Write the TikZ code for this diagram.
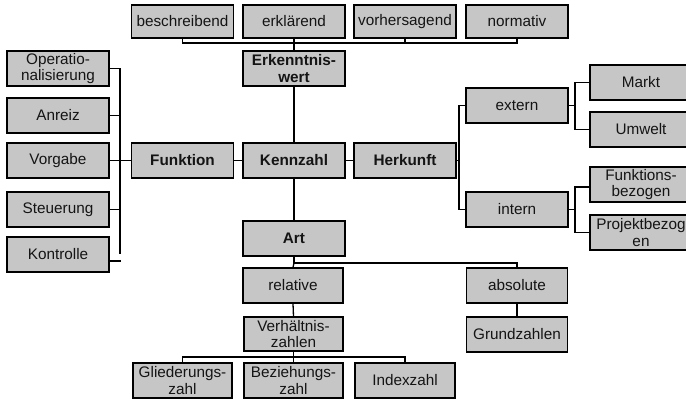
\documentclass[tikz,border=0pt]{standalone}
\usepackage{fontspec}
\setmainfont{Liberation Sans}
\definecolor{boxgray}{RGB}{198,198,198}
\definecolor{txt}{RGB}{20,20,20}
\tikzset{
  kbox/.style={draw=black, fill=boxgray, line width=1.3pt, minimum width=102pt,
    minimum height=35pt, inner sep=0pt, align=center, text=txt,
    font=\fontsize{15.3}{16.8}\selectfont},
  kbold/.style={kbox, font=\fontsize{15.3}{16.8}\selectfont\bfseries},
  conn/.style={draw=black, line width=1.3pt}
}
\begin{document}
\begin{tikzpicture}[x=1pt,y=-1pt]
\clip (0,0) rectangle (686,400);
\fill[white] (0,0) rectangle (686,400);
% top row
\node[kbox, minimum height=33pt] (besch) at (182.5,21.5) {beschreibend};
\node[kbox, minimum height=33pt] (erkl) at (294,21.5) {erklärend};
\node[kbox, minimum height=33pt] (vorh) at (405,21.5) {vorhersagend};
\node[kbox, minimum height=33pt] (norm) at (517,21.5) {normativ};
\node[kbold] (erk) at (294,68.5) {Erkenntnis-\\wert};
% left column
\node[kbox] (oper) at (58,68.5) {Operatio-\\nalisierung};
\node[kbox] (anr) at (58,115.5) {Anreiz};
\node[kbox] (vorg) at (58,160.5) {Vorgabe};
\node[kbox] (steu) at (58,209.5) {Steuerung};
\node[kbox] (kontr) at (58,254.5) {Kontrolle};
% middle row
\node[kbold] (funk) at (182.5,160.5) {Funktion};
\node[kbold] (kenn) at (294,160.5) {Kennzahl};
\node[kbold] (herk) at (405,160.5) {Herkunft};
% right side
\node[kbox] (ext) at (517,105.5) {extern};
\node[kbox] (int) at (517,209.5) {intern};
\node[kbox] (markt) at (641,82.5) {Markt};
\node[kbox] (umw) at (641,129.5) {Umwelt};
\node[kbox] (fbez) at (641,184.5) {Funktions-\\bezogen};
\node[kbox] (pbez) at (641,232.5) {Projektbezog\\en};
% bottom
\node[kbold] (art) at (294,238.5) {Art};
\node[kbox, minimum width=100pt] (rel) at (293,285.5) {relative};
\node[kbox, minimum width=101pt] (abs) at (517,285.5) {absolute};
\node[kbox, minimum width=99pt, minimum height=34pt] (verh) at (293.5,334) {Verhältnis-\\zahlen};
\node[kbox, minimum width=101pt] (grund) at (517,334.5) {Grundzahlen};
\node[kbox, minimum width=99pt] (glied) at (182.5,380.5) {Gliederungs-\\zahl};
\node[kbox, minimum width=99pt] (bez) at (293.5,380.5) {Beziehungs-\\zahl};
\node[kbox, minimum width=100pt] (idx) at (405,380.5) {Indexzahl};
% bus coordinates
\coordinate (topbus) at (294,43);
\coordinate (lbus) at (120,160.5);
\coordinate (hbus) at (459,160.5);
\coordinate (ebus) at (575,105.5);
\coordinate (ibus) at (575,209.5);
\coordinate (artbus) at (294,263);
\coordinate (vbus) at (293.5,357);
% top connectors
\draw[conn] (besch.south) |- (topbus) -| (norm.south);
\draw[conn] (vorh.south) -- (vorh.south |- topbus);
\draw[conn] (erkl.south) -- (erk.north);
\draw[conn] (erk.south) -- (kenn.north);
% middle
\draw[conn] (kenn.west) -- (funk.east);
\draw[conn] (kenn.east) -- (herk.west);
\draw[conn] (funk.west) -- (vorg.east);
\draw[conn] (oper.east) -| (lbus |- 0,254);
\draw[conn] (anr.east) -- (anr.east -| lbus);
\draw[conn] (steu.east) -- (steu.east -| lbus);
\draw[conn] ([yshift=-6.5pt]kontr.east) -- ++(11,0);
% Herkunft
\draw[conn] (herk.east) -- (hbus);
\draw[conn] (ext.west) -| (hbus) |- (int.west);
\draw[conn] (ext.east) -- (ebus);
\draw[conn] (markt.west) -| (ebus) |- (umw.west);
\draw[conn] (int.east) -- (ibus);
\draw[conn] ([yshift=-2.5pt]fbez.west) -| (ibus) |- (pbez.west);
% Art
\draw[conn] (kenn.south) -- (art.north);
\draw[conn] (art.south) -- (artbus) -| (abs.north);
\draw[conn] (artbus) -- (rel.north);
\draw[conn] (rel.south) -- (verh.north);
\draw[conn] (abs.south) -- (grund.north);
\draw[conn] (verh.south) -- (vbus);
\draw[conn] (glied.north) |- (vbus) -| (idx.north);
\draw[conn] (vbus) -- (bez.north);
\end{tikzpicture}
\end{document}
